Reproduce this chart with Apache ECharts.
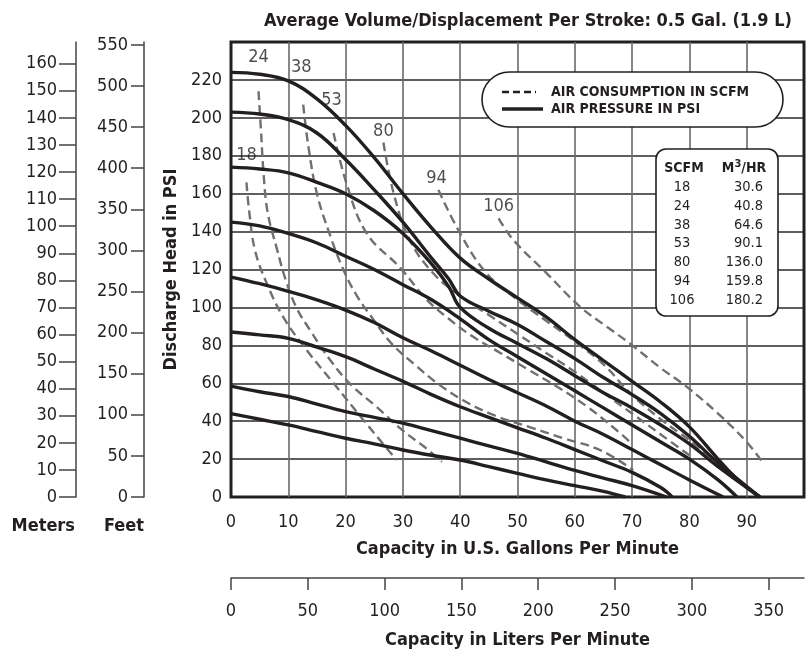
<!DOCTYPE html>
<html><head><meta charset="utf-8">
<script src="https://cdn.jsdelivr.net/npm/echarts@6/dist/echarts.min.js"></script>
<style>html,body{margin:0;padding:0;background:#fff}#c{width:809px;height:655px}</style>
</head><body><div id="c"></div>
<script>
// ---------- text ----------
const titleText = 'Average Volume/Displacement Per Stroke: 0.5 Gal. (1.9 L)';
const xNameGpm = 'Capacity in U.S. Gallons Per Minute';
const xNameLpm = 'Capacity in Liters Per Minute';
const yNamePsi = 'Discharge Head in PSI';
const feetName = 'Feet';
const metersName = 'Meters';
const legendDashed = 'AIR CONSUMPTION IN SCFM';
const legendSolid = 'AIR PRESSURE IN PSI';

// ---------- axis ranges ----------
const gpmRange = [0, 100, 10];
const psiRange = [0, 240, 20];
const feetRange = [0, 553.6, 50];
const metersRange = [0, 168, 10];
const lpmRange = [0, 373, 50];

// ---------- table ----------
const scfm = [18, 24, 38, 53, 80, 94, 106];
const m3hr = ['30.6', '40.8', '64.6', '90.1', '136.0', '159.8', '180.2'];

// ---------- air pressure curves (solid) [gpm, psi] ----------
const pA = [[0,224],[5,223],[10,219.5],[15,210],[20,196],[25,179],[30,160],[35,142],[40,126],[45,115],[50,105],[55,95],[60,83],[65,72],[70,61],[75,50],[80,37],[85,20],[88.5,9],[92.3,0]];
const pB = [[0,203],[5,202],[10,199],[15,192],[20,178],[25,162],[30,145],[35,126],[38,115],[40,106],[45,98],[50,91],[55,82],[60,73],[65,63],[70,54],[75,44],[80,32],[85,18],[92.3,0]];
const pC = [[0,174],[5,173],[10,171],[15,166],[20,160],[25,151],[30,139],[35,123],[38,111],[40,100],[45,89],[50,81],[55,73],[60,64],[65,55],[70,47],[75,38],[80,28],[85,16],[92.3,0]];
const pD = [[0,145],[5,143],[10,139],[15,134],[20,127],[25,120],[30,112],[35,104],[40,94],[45,83],[50,74],[55,65],[60,56],[65,47],[70,38],[75,29],[80,20],[85,9],[88.3,0]];
const pE = [[0,116],[5,112.5],[10,108.5],[15,104],[20,98.6],[25,92],[30,84],[35,77],[40,69.5],[45,62],[50,55],[55,48],[60,40],[65,33],[70,25],[75,17],[80,9],[85.9,0]];
const pF = [[0,87],[5,85.5],[10,83.7],[15,79],[20,74],[25,67.5],[30,61],[35,54],[40,47.6],[45,42],[50,36.5],[55,31],[60,25],[65,19],[70,13],[75,5],[77,0]];
const pG = [[0,58.5],[5,55.5],[10,53],[15,49],[20,45],[25,42],[30,39],[35,35],[40,31],[45,27],[50,23],[55,18.5],[60,14],[65,10],[70,6],[76,0]];
const pH = [[0,44],[5,41],[10,38],[15,34.5],[20,31],[25,28],[30,24.8],[35,22],[40,19.5],[45,16],[50,12.5],[55,9],[60,6],[65,3],[68.8,0]];

// ---------- air consumption curves (dashed) [gpm, psi] ----------
const c18 = [[2.7,166],[3.2,150],[4.2,130],[6.2,113],[9.1,95],[13.2,77.5],[17.9,60],[23.1,40.6],[26,30],[28.9,19.5]];
const c24 = [[4.8,214],[5.2,195],[5.7,170],[6.4,150],[8,131],[9.6,114],[11.4,100],[13.8,88],[17.3,72.3],[21,59],[25.4,47.6],[30,35],[33.5,27],[36.8,18.6]];
const c38 = [[12.6,207],[13.5,185],[15,160],[17.3,138],[19.6,120],[22,106],[25,93],[28,81],[32,70],[36,60],[40.5,51],[46,43],[52,37],[58,31],[64.4,24.8],[70.2,14.2]];
const c53 = [[17.9,192],[20.2,165],[23.7,139],[29.5,121],[34.2,104],[38,94],[42,85],[47,76],[52,67],[57,58],[62,48],[67,36],[70,28]];
const c80 = [[26.6,187],[28.4,160],[31.2,135.5],[35.3,118],[40,106],[45,96],[50,86],[55,76],[60,66],[65,55],[70,44],[75,33],[80,22]];
const c94 = [[36.2,162],[40,139],[44.6,118],[50,104],[55,93],[60,82],[65,70],[69.6,55],[75,41],[80,30],[83.6,21]];
const c106 = [[46.7,147],[49.3,135.5],[55.1,118],[60.9,100.4],[65.6,89.8],[69.6,81],[75,68],[79.5,58.2],[85,44],[90,29],[92.9,17.8]];

const pressureCurves = [pA, pB, pC, pD, pE, pF, pG, pH];
const consumptionCurves = [c18, c24, c38, c53, c80, c94, c106];

// ---------- styles ----------
const FONT = "'DejaVu Sans Condensed','Liberation Sans Narrow',sans-serif";
const INK = '#231f20';
const DASH = '#707070';
const curveLabelOffset = [[0,-27],[0,-34],[-2,-37],[-2,-33],[0,-11],[-2,-12],[0,-12]];

const chart = echarts.init(document.getElementById('c'), null, {renderer: 'canvas'});

const series = [];
pressureCurves.forEach((d, i) => series.push({
  type: 'line', name: 'psi' + i, xAxisIndex: 0, yAxisIndex: 0, data: d, smooth: 0.4, showSymbol: false, silent: true,
  lineStyle: {color: INK, width: 3.4}, z: 5
}));
consumptionCurves.forEach((d, i) => series.push({
  type: 'line', name: 'scfm' + scfm[i], xAxisIndex: 0, yAxisIndex: 0, data: d, smooth: 0.4, showSymbol: false, silent: true,
  lineStyle: {color: DASH, width: 2.4, type: [9, 5]}, z: 4
}));
series.push({
  type: 'scatter', name: 'labels', xAxisIndex: 0, yAxisIndex: 0, symbolSize: 1, silent: true,
  itemStyle: {color: 'rgba(0,0,0,0)'},
  data: consumptionCurves.map((d, i) => ({
    value: d[0],
    label: {show: true, position: 'inside', offset: curveLabelOffset[i],
      formatter: String(scfm[i]), fontFamily: FONT, fontSize: 18, color: INK}
  })),
  z: 6
});

const tickFont = {fontFamily: FONT, fontSize: 18, color: INK};
const boldName = {fontFamily: FONT, fontSize: 18, fontWeight: 'bold', color: INK};

const graphic = [
  {type: 'text', x: 528, y: 21, style: {text: titleText, font: 'bold 18px ' + FONT, fill: INK, align: 'center', verticalAlign: 'middle'}},
  {type: 'text', x: 75, y: 526, style: {text: metersName, font: 'bold 18px ' + FONT, fill: INK, align: 'right', verticalAlign: 'middle'}},
  {type: 'text', x: 144, y: 526, style: {text: feetName, font: 'bold 18px ' + FONT, fill: INK, align: 'right', verticalAlign: 'middle'}},
  {type: 'rect', z: 100, shape: {x: 482, y: 72, width: 301, height: 55, r: 27.5},
    style: {fill: '#fff', stroke: INK, lineWidth: 1.6}},
  {type: 'line', z: 101, shape: {x1: 502, y1: 92, x2: 536, y2: 92}, style: {stroke: INK, lineWidth: 2.5, lineDash: [7, 4]}},
  {type: 'line', z: 101, shape: {x1: 502, y1: 109, x2: 543, y2: 109}, style: {stroke: INK, lineWidth: 3.5}},
  {type: 'text', z: 101, x: 551, y: 92, style: {text: legendDashed, font: 'bold 14px ' + FONT, fill: INK, verticalAlign: 'middle'}},
  {type: 'text', z: 101, x: 551, y: 109, style: {text: legendSolid, font: 'bold 14px ' + FONT, fill: INK, verticalAlign: 'middle'}},
  {type: 'rect', z: 100, shape: {x: 656, y: 149, width: 122, height: 167, r: 10},
    style: {fill: '#fff', stroke: INK, lineWidth: 1.6}},
  {type: 'text', z: 101, x: 684, y: 168, style: {text: 'SCFM', font: 'bold 14px ' + FONT, fill: INK, align: 'center', verticalAlign: 'middle'}},
  {type: 'text', z: 101, x: 744, y: 168, style: {
    text: 'M{sup|3}/HR', font: 'bold 14px ' + FONT, fill: INK, align: 'center', verticalAlign: 'middle',
    rich: {sup: {font: 'bold 11px ' + FONT, fill: INK, verticalAlign: 'bottom', padding: [0,0,8,0]}}}}
];
scfm.forEach((v, i) => {
  graphic.push({type: 'text', z: 101, x: 682, y: 187 + i * 18.9,
    style: {text: String(v), font: '14.5px ' + FONT, fill: INK, align: 'center', verticalAlign: 'middle'}});
  graphic.push({type: 'text', z: 101, x: 763, y: 187 + i * 18.9,
    style: {text: m3hr[i], font: '14.5px ' + FONT, fill: INK, align: 'right', verticalAlign: 'middle'}});
});

chart.setOption({
  animation: false,
  backgroundColor: '#fff',
  grid: [
    {left: 231, right: 5, top: 42, bottom: 158, show: true, borderColor: INK, borderWidth: 3, backgroundColor: 'transparent'},
    {left: 231, right: 5, bottom: 77, height: 10, show: false}
  ],
  xAxis: [
    {type: 'value', gridIndex: 0, min: gpmRange[0], max: gpmRange[1], interval: gpmRange[2],
      name: xNameGpm, nameLocation: 'middle', nameGap: 43, nameTextStyle: boldName,
      axisLine: {show: false}, axisTick: {show: false},
      axisLabel: Object.assign({margin: 16, showMaxLabel: false}, tickFont),
      splitLine: {show: true, showMinLine: false, showMaxLine: false, lineStyle: {color: '#6a6a6a', width: 1.6}}},
    {type: 'value', gridIndex: 1, min: lpmRange[0], max: lpmRange[1], interval: lpmRange[2],
      name: xNameLpm, nameLocation: 'middle', nameGap: 53, nameTextStyle: boldName,
      axisLine: {show: true, onZero: false, lineStyle: {color: '#444', width: 1.5}},
      axisTick: {show: true, inside: false, length: 12, lineStyle: {color: '#444', width: 1.5}},
      axisLabel: Object.assign({margin: 24, showMaxLabel: false}, tickFont),
      splitLine: {show: false}}
  ],
  yAxis: [
    {type: 'value', gridIndex: 0, min: psiRange[0], max: psiRange[1], interval: psiRange[2],
      name: yNamePsi, nameLocation: 'middle', nameGap: 47, nameRotate: 90, nameTextStyle: boldName,
      axisLine: {show: false}, axisTick: {show: false},
      axisLabel: Object.assign({margin: 9, showMaxLabel: false}, tickFont),
      splitLine: {show: true, showMinLine: false, showMaxLine: false, lineStyle: {color: '#2a2a2a', width: 1.6}}},
    {type: 'value', gridIndex: 0, position: 'left', offset: 87, min: feetRange[0], max: feetRange[1], interval: feetRange[2],
      axisLine: {show: true, onZero: false, lineStyle: {color: '#444', width: 1.5}},
      axisTick: {show: true, length: 13, lineStyle: {color: '#444', width: 1.5}},
      axisLabel: Object.assign({margin: 16, showMaxLabel: false}, tickFont),
      splitLine: {show: false}},
    {type: 'value', gridIndex: 0, position: 'left', offset: 155, min: metersRange[0], max: metersRange[1], interval: metersRange[2],
      axisLine: {show: true, onZero: false, lineStyle: {color: '#444', width: 1.5}},
      axisTick: {show: true, length: 17, lineStyle: {color: '#444', width: 1.5}},
      axisLabel: Object.assign({margin: 19, showMaxLabel: false}, tickFont),
      splitLine: {show: false}},
    {type: 'value', gridIndex: 1, min: 0, max: 1, show: false}
  ],
  graphic: graphic,
  series: series
});
</script>
</body></html>
